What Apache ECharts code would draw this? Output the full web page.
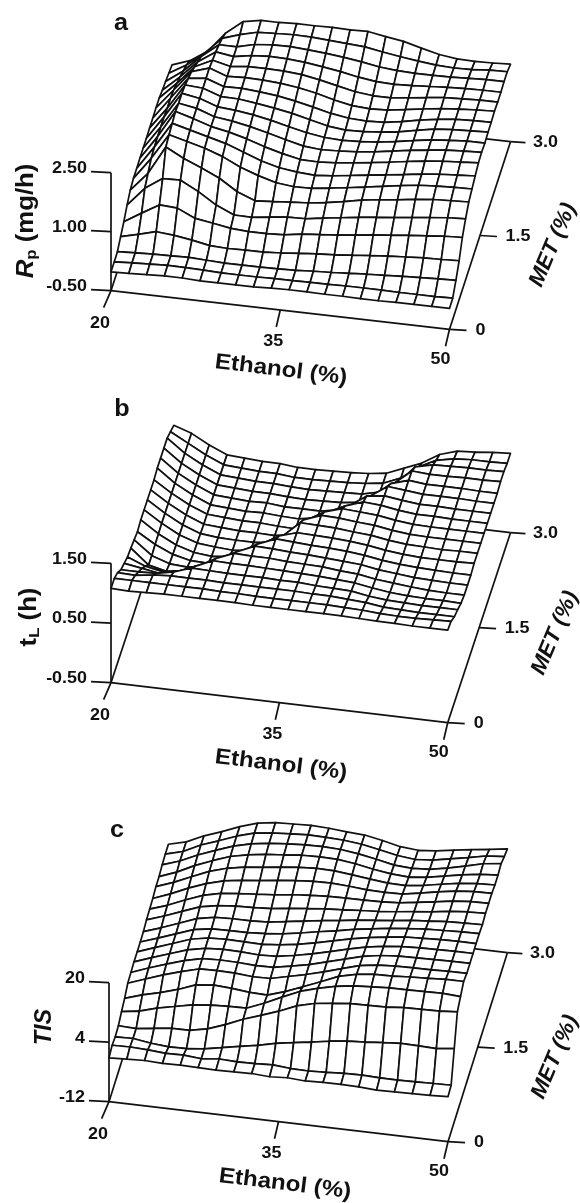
<!DOCTYPE html>
<html><head><meta charset="utf-8">
<style>html,body{margin:0;padding:0;background:#fff}#c{width:580px;height:1203px}</style>
<script src="https://cdn.jsdelivr.net/npm/echarts@6/dist/echarts.min.js"></script>
</head><body><div id="c"></div>
<script>
// Rows run from MET 0 to MET 3.0 (20 levels); columns from ethanol 20 to 50 % (20 levels)
const rpValues = [
[-0.02,-0.01,0.01,0.03,0.03,0.01,0.01,0.01,0.01,0.03,0.04,0.04,0.03,0.03,0.02,0.02,0.03,0.03,0.03,0.03],
[-0.02,0.01,0.03,0.05,0.04,0.03,0.01,0.01,0.01,0.02,0.02,0.03,0.03,0.04,0.04,0.04,0.03,0.03,0.03,0.04],
[-0.01,0.01,0.03,0.04,0.05,0.03,0.01,0.01,0.01,0.02,0.03,0.06,0.08,0.11,0.14,0.16,0.19,0.21,0.23,0.24],
[0.12,0.23,0.35,0.31,0.24,0.15,0.13,0.14,0.14,0.17,0.21,0.25,0.28,0.32,0.36,0.40,0.43,0.46,0.47,0.49],
[0.25,0.52,0.78,0.75,0.54,0.47,0.39,0.36,0.36,0.38,0.45,0.49,0.53,0.58,0.64,0.68,0.73,0.77,0.81,0.83],
[0.42,0.90,1.20,1.21,0.97,0.68,0.48,0.47,0.53,0.58,0.59,0.66,0.72,0.78,0.83,0.88,0.93,0.98,1.03,1.05],
[0.55,1.03,1.75,1.51,1.32,1.11,0.82,0.64,0.67,0.71,0.74,0.80,0.88,0.97,1.03,1.08,1.14,1.19,1.21,1.23],
[0.60,1.16,1.81,1.69,1.57,1.41,1.19,1.03,0.90,0.85,0.86,0.92,0.98,1.05,1.12,1.19,1.25,1.28,1.30,1.31],
[0.60,1.20,1.85,1.73,1.61,1.49,1.32,1.15,1.03,0.97,0.94,0.98,1.04,1.10,1.16,1.22,1.28,1.33,1.36,1.39],
[0.61,1.21,1.90,1.77,1.62,1.53,1.41,1.26,1.14,1.04,1.03,1.06,1.11,1.17,1.23,1.30,1.36,1.41,1.44,1.47],
[0.61,1.21,1.86,1.78,1.62,1.56,1.47,1.36,1.24,1.13,1.09,1.11,1.14,1.19,1.26,1.33,1.39,1.44,1.47,1.49],
[0.61,1.21,1.86,1.78,1.62,1.58,1.52,1.43,1.32,1.22,1.15,1.13,1.15,1.19,1.25,1.33,1.40,1.44,1.47,1.47],
[0.62,1.18,1.82,1.79,1.63,1.62,1.56,1.49,1.41,1.30,1.19,1.14,1.15,1.19,1.25,1.34,1.42,1.46,1.48,1.50],
[0.62,1.18,1.74,1.79,1.63,1.64,1.60,1.55,1.47,1.37,1.26,1.19,1.17,1.19,1.26,1.35,1.42,1.47,1.49,1.50],
[0.63,1.14,1.66,1.80,1.64,1.66,1.65,1.62,1.56,1.47,1.35,1.26,1.23,1.25,1.31,1.38,1.44,1.48,1.51,1.53],
[0.63,1.06,1.53,1.75,1.64,1.69,1.69,1.68,1.64,1.56,1.46,1.36,1.31,1.31,1.36,1.42,1.47,1.49,1.51,1.51],
[0.58,0.97,1.41,1.71,1.64,1.72,1.75,1.74,1.70,1.64,1.57,1.48,1.42,1.40,1.42,1.45,1.48,1.50,1.51,1.51],
[0.55,0.87,1.29,1.64,1.64,1.75,1.79,1.80,1.77,1.73,1.68,1.62,1.54,1.50,1.48,1.48,1.49,1.51,1.53,1.53],
[0.51,0.77,1.12,1.55,1.70,1.81,1.83,1.85,1.84,1.81,1.78,1.75,1.67,1.60,1.54,1.49,1.47,1.48,1.52,1.53],
[0.47,0.63,0.92,1.43,1.78,1.86,1.86,1.88,1.88,1.89,1.88,1.89,1.81,1.74,1.62,1.51,1.45,1.44,1.45,1.47]
];
const tlValues = [
[1.08,1.07,1.08,1.09,1.09,1.09,1.09,1.09,1.08,1.08,1.08,1.08,1.08,1.08,1.07,1.06,1.06,1.05,1.05,1.05],
[1.08,1.08,1.08,1.08,1.08,1.08,1.07,1.07,1.06,1.06,1.06,1.06,1.06,1.05,1.04,1.02,1.01,1.01,1.02,1.03],
[1.01,1.00,1.04,1.06,1.06,1.06,1.05,1.05,1.05,1.05,1.05,1.04,1.04,1.02,1.00,0.96,0.95,0.94,0.94,0.94],
[0.89,0.89,0.90,0.96,1.06,1.05,1.04,1.04,1.04,1.03,1.03,1.01,1.00,0.99,0.94,0.91,0.90,0.89,0.89,0.89],
[0.83,0.78,0.73,0.80,0.92,1.05,1.04,1.04,1.03,1.02,1.01,1.00,0.98,0.96,0.91,0.87,0.85,0.84,0.84,0.83],
[0.77,0.65,0.59,0.63,0.76,0.92,1.04,1.03,1.03,1.01,1.00,0.99,0.96,0.94,0.89,0.86,0.83,0.81,0.80,0.80],
[0.75,0.50,0.43,0.48,0.59,0.76,0.90,1.03,1.02,1.00,0.99,0.97,0.95,0.93,0.88,0.85,0.82,0.81,0.80,0.80],
[0.72,0.49,0.39,0.37,0.42,0.59,0.73,0.90,1.02,1.00,0.98,0.97,0.95,0.92,0.87,0.84,0.82,0.81,0.80,0.80],
[0.69,0.51,0.38,0.31,0.30,0.42,0.56,0.73,0.90,0.99,0.98,0.97,0.95,0.92,0.87,0.84,0.82,0.82,0.82,0.83],
[0.72,0.52,0.37,0.28,0.25,0.28,0.39,0.56,0.73,0.99,0.98,0.97,0.94,0.92,0.87,0.84,0.83,0.82,0.83,0.83],
[0.72,0.53,0.37,0.27,0.24,0.22,0.25,0.39,0.56,0.87,0.98,0.97,0.94,0.92,0.87,0.84,0.83,0.83,0.83,0.83],
[0.72,0.53,0.37,0.26,0.23,0.22,0.22,0.25,0.39,0.70,0.87,0.96,0.94,0.92,0.87,0.84,0.83,0.83,0.83,0.83],
[0.72,0.53,0.37,0.25,0.23,0.21,0.21,0.20,0.25,0.53,0.70,0.84,0.94,0.92,0.87,0.84,0.84,0.83,0.83,0.83],
[0.72,0.53,0.37,0.25,0.23,0.21,0.21,0.19,0.18,0.37,0.53,0.67,0.87,0.91,0.87,0.84,0.84,0.83,0.83,0.83],
[0.75,0.53,0.37,0.24,0.22,0.20,0.21,0.19,0.18,0.23,0.37,0.51,0.70,0.90,0.87,0.84,0.84,0.84,0.83,0.83],
[0.75,0.53,0.37,0.24,0.22,0.20,0.21,0.18,0.18,0.18,0.23,0.34,0.53,0.78,0.87,0.84,0.84,0.84,0.83,0.83],
[0.75,0.53,0.37,0.24,0.22,0.20,0.20,0.18,0.17,0.18,0.19,0.23,0.37,0.62,0.86,0.84,0.84,0.85,0.85,0.86],
[0.75,0.53,0.37,0.24,0.22,0.20,0.20,0.18,0.17,0.18,0.19,0.20,0.27,0.45,0.76,0.83,0.84,0.85,0.85,0.86],
[0.69,0.53,0.37,0.24,0.22,0.20,0.20,0.17,0.17,0.18,0.19,0.21,0.25,0.37,0.59,0.74,0.80,0.82,0.82,0.83],
[0.63,0.53,0.37,0.24,0.22,0.20,0.20,0.17,0.17,0.18,0.19,0.21,0.25,0.37,0.49,0.67,0.76,0.78,0.81,0.83]
];
const tisValues = [
[-0.2,0,0.2,0,0.1,0,-0.1,0,0.1,-0.2,0.1,-0.2,0,0,-0.1,-0.4,-0.3,-0.2,-0.1,0.1],
[0.5,0.6,0.4,0,0.1,-0.3,0.2,0,0.1,0.3,-0.1,-0.2,0,0.3,0.4,0.2,0.2,0.3,0.4,0.5],
[0.1,0.2,-0.5,-0.9,-0.8,-0.3,0.6,1.5,2.3,3.4,4.2,4.9,5.7,6.3,6.6,7.0,7.4,7.3,7.1,7.7],
[0.4,0.2,0.8,1.4,1.4,2.4,4.1,6.1,7.7,9.4,11.4,12.6,13.2,13.7,13.8,13.9,14.3,14.4,14.5,14.9],
[1.5,2.2,3.6,4.6,5.6,6.1,6.3,6.4,8.3,10.5,12.6,14.0,15.1,15.8,16.1,16.4,16.4,16.5,16.6,16.3],
[2.4,3.9,5.1,6.5,8.3,8.8,8.5,8.0,7.8,9.3,11.2,13.1,15.1,16.2,16.8,16.9,17.2,17.4,17.7,17.7],
[3.8,5.5,7.2,8.6,9.9,10.0,9.9,9.5,9.6,10.7,11.8,13.1,14.5,15.9,16.6,16.9,17.0,17.0,17.2,17.2],
[4.0,5.8,7.4,8.9,10.0,10.2,10.1,9.8,9.9,10.8,11.8,13.1,14.4,15.7,16.5,16.9,17.0,17.1,17.2,17.2],
[4.2,5.9,7.5,9.1,10.1,10.4,10.3,10.0,10.2,11.0,12.0,13.2,14.4,15.5,16.3,16.8,17.0,17.1,17.2,17.2],
[4.2,5.9,7.6,9.3,10.2,10.4,10.3,10.2,10.6,11.3,12.3,13.4,14.5,15.4,16.1,16.7,16.9,17.1,17.2,17.2],
[4.2,5.8,7.5,9.2,10.0,10.1,10.1,10.4,10.9,11.7,12.6,13.4,14.4,15.1,15.8,16.3,16.7,16.9,17.1,17.2],
[4.3,5.9,7.7,9.5,10.4,10.6,10.6,10.8,11.5,12.2,12.9,13.5,14.2,14.7,15.2,15.8,16.2,16.6,16.8,16.9],
[4.8,6.4,8.2,10.0,10.9,11.3,11.5,11.8,12.4,12.9,13.4,13.7,14.1,14.4,14.9,15.5,16.0,16.7,17.1,17.3],
[5.0,6.6,8.6,10.4,11.5,12.0,12.4,12.8,13.4,13.8,14.1,14.2,14.2,14.3,14.6,15.3,16.0,16.8,17.2,17.3],
[5.2,7.0,9.1,10.9,12.2,12.9,13.4,14.0,14.5,14.9,15.0,14.7,14.3,14.2,14.3,15.1,16.0,16.8,17.2,17.3],
[5.7,7.4,9.5,11.5,12.9,13.8,14.3,14.9,15.4,15.7,15.6,15.1,14.5,14.0,13.9,14.5,15.4,16.2,16.7,16.9],
[5.7,7.5,9.8,11.7,13.4,14.4,15.1,15.5,16.0,16.1,16.0,15.4,14.5,13.8,13.5,14.0,14.9,15.8,16.5,16.9],
[6.2,7.8,10.0,11.8,13.5,14.7,15.4,15.8,16.1,16.2,16.0,15.4,14.5,13.5,13.2,13.5,14.4,15.5,16.7,17.3],
[6.4,7.7,10.0,11.7,13.5,14.9,15.5,15.8,16.1,16.0,15.8,15.3,14.4,13.4,12.9,13.3,14.2,15.1,16.1,16.5],
[6.4,7.6,9.8,11.5,13.4,14.9,15.6,15.8,16.0,15.8,15.4,15.1,14.2,13.1,12.7,13.1,13.9,14.6,15.2,15.9]
];
const ethanolTicks = [20, 35, 50];
const ethanolTickLabels = ['20', '35', '50'];
const metTicks = [0, 1.5, 3.0];
const metTickLabels = ['0', '1.5', '3.0'];
const rpTicks = [-0.5, 1.0, 2.5];
const rpTickLabels = ['-0.50', '1.00', '2.50'];
const tlTicks = [-0.5, 0.5, 1.5];
const tlTickLabels = ['-0.50', '0.50', '1.50'];
const tisTicks = [-12, 4, 20];
const tisTickLabels = ['-12', '4', '20'];

const INK = '#111';
const FONT = '"Liberation Sans", Arial, sans-serif';
const panels = [
 {letter:'a', values:rpValues, zTicks:rpTicks, zLabels:rpTickLabels, ox:111, oy:290.7, ex:338.5, ey:38.6, mx:61, my:187.6, k:39.33,
  letterPos:[121,23], title:'{i|R}{s|p}{n| (mg/h)}', titlePos:[27,221], titleScale:1.12, ethPos:[281,370], metPos:[553,245]},
 {letter:'b', values:tlValues, zTicks:tlTicks, zLabels:tlTickLabels, ox:111, oy:682.7, ex:336.7, ey:40, mx:62.8, my:190, k:59.67,
  letterPos:[122,409], title:'{n|t}{s|L}{n| (h)}', titlePos:[30,617], titleScale:1.12, ethPos:[281,765], metPos:[555,633]},
 {letter:'c', values:tisValues, zTicks:tisTicks, zLabels:tisTickLabels, ox:109, oy:1101.7, ex:339, ey:40, mx:59.4, my:189, k:3.72,
  letterPos:[117,830], title:'{i|TIS}', titlePos:[45,1027], titleScale:1.02, ethPos:[285,1184], metPos:[555,1057]}
];

function plane(p, e, m, z) { // oblique view: ethanol fraction, MET fraction, value → plot-plane data
  return [e + m * p.mx / p.ex, z - (p.ey / p.k) * e + (p.my / p.k) * m];
}
const ef = v => (v - ethanolTicks[0]) / (ethanolTicks[2] - ethanolTicks[0]);
const mf = v => (v - metTicks[0]) / (metTicks[2] - metTicks[0]);

const grid = [], xAxis = [], yAxis = [], series = [];
panels.forEach((p, n) => {
  const zMin = p.zTicks[0];
  grid.push({show:false, left:p.ox, width:p.ex + p.mx, top:p.oy - 280, height:340 + p.ey});
  xAxis.push({type:'value', gridIndex:n, show:false, min:0, max:1 + p.mx / p.ex});
  yAxis.push({type:'value', gridIndex:n, show:false, min:zMin - (p.ey + 60) / p.k, max:zMin + 280 / p.k});
  const base = {type:'custom', coordinateSystem:'cartesian2d', xAxisIndex:n, yAxisIndex:n, silent:true, animation:false};

  // frame: axes and ticks
  series.push(Object.assign({}, base, {z:1, data:[[0]], renderItem(params, api){
    const c = a => api.coord(a);
    const els = [];
    const line = (a, b) => els.push({type:'line', shape:{x1:a[0],y1:a[1],x2:b[0],y2:b[1]}, style:{stroke:INK, lineWidth:1.7}});
    const txt = (s, x, y, size) => els.push({type:'text', x, y, scaleX:1.12, style:{text:s, fill:INK, font:`bold ${size}px ${FONT}`, align:'center', verticalAlign:'middle'}});
    const O = c(plane(p,0,0,zMin)), E1 = c(plane(p,1,0,zMin)), M1 = c(plane(p,0,1,zMin)), EM = c(plane(p,1,1,zMin));
    line(O, E1); line(E1, EM); line(O, M1); line(M1, EM);
    line(O, c(plane(p,0,0,p.zTicks[2])));
    line(EM, [EM[0]+15, EM[1]+1]);
    p.zTicks.forEach((t, i) => {
      const a = c(plane(p,0,0,t));
      line(a, [a[0]-20, a[1]-1]);
      els.push({type:'text', x:a[0]-24, y:a[1]-4, scaleX:1.12, style:{text:p.zLabels[i], fill:INK, font:`bold 16px ${FONT}`, align:'right', verticalAlign:'middle'}});
    });
    const eOff = [[-11,33,-7.4],[-7,32,-4],[-9,30,-4]];
    ethanolTicks.forEach((t, i) => {
      const a = c(plane(p,ef(t),0,zMin));
      line(a, [a[0]+eOff[i][2], a[1]+17]);
      txt(ethanolTickLabels[i], a[0]+eOff[i][0], a[1]+eOff[i][1], 16);
    });
    const mOff = [[17,31],[17,38],[0,35]];
    metTicks.forEach((t, i) => {
      const a = c(plane(p,1,mf(t),zMin));
      if (mOff[i][0]) line(a, [a[0]+mOff[i][0], a[1]+1]);
      txt(metTickLabels[i], a[0]+mOff[i][1], a[1]+1, 16);
    });
    return {type:'group', children:els};
  }}));

  // surface: cells painted far to near
  const cells = [];
  for (let j = p.values.length - 2; j >= 0; j--) for (let i = 0; i < p.values[0].length - 1; i++) cells.push([i, j]);
  series.push(Object.assign({}, base, {z:2, data:cells, renderItem(params, api){
    const i = api.value(0), j = api.value(1), nI = p.values[0].length - 1, nJ = p.values.length - 1;
    const pt = (a, b) => api.coord(plane(p, a / nI, b / nJ, p.values[b][a]));
    return {type:'polygon', shape:{points:[pt(i,j), pt(i+1,j), pt(i+1,j+1), pt(i,j+1)]},
      style:{fill:'#fff', stroke:INK, lineWidth:1.7, lineJoin:'round'}};
  }}));

  // titles
  series.push(Object.assign({}, base, {z:3, data:[[0]], renderItem(){
    const rich = {
      i:{font:`italic bold 23px ${FONT}`, fill:INK},
      n:{font:`bold 23px ${FONT}`, fill:INK},
      s:{font:`bold 15px ${FONT}`, fill:INK, verticalAlign:'bottom', padding:[9,0,0,0]}
    };
    const t = (s, pos, deg, font, sx, r) => ({type:'text', x:pos[0], y:pos[1], rotation:deg*Math.PI/180, scaleX:sx,
      style:{text:s, fill:INK, font, align:'center', verticalAlign:'middle', rich:r}});
    return {type:'group', children:[
      t(p.letter, p.letterPos, 0, `bold 24px ${FONT}`, 1.05),
      t(p.title, p.titlePos, 90, `bold 23px ${FONT}`, p.titleScale, rich),
      t('Ethanol (%)', p.ethPos, -7, `bold 22px ${FONT}`, 1.1),
      t('MET (%)', p.metPos, 67, `italic bold 22px ${FONT}`, 1.02)
    ]};
  }}));
});

const chart = echarts.init(document.getElementById('c'), null, {renderer:'canvas'});
chart.setOption({animation:false, backgroundColor:'#fff', grid, xAxis, yAxis, series});
</script></body></html>
